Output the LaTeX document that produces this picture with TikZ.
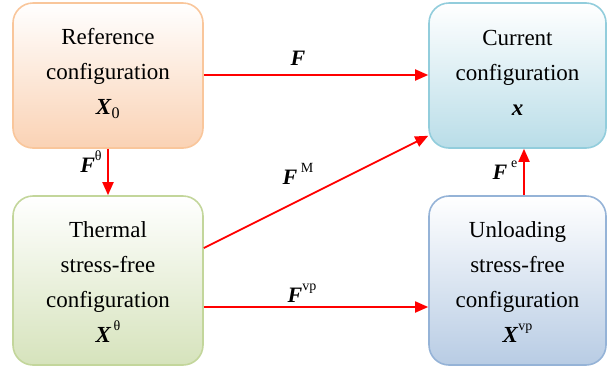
\documentclass[tikz,border=0pt]{standalone}
\usepackage{fontspec}
\setmainfont{Liberation Serif}
\usetikzlibrary{arrows.meta}
\newcommand{\bF}{\textbf{\textit{F}}}
\newcommand{\bX}{\textbf{\textit{X}}}
\newcommand{\upsc}[1]{\raisebox{0.55em}{\fontsize{14}{14}\selectfont #1}}
\definecolor{refB}{HTML}{F9C69B}
\definecolor{refF}{HTML}{FAD2B4}
\definecolor{curB}{HTML}{92CDDC}
\definecolor{curF}{HTML}{B9DDE8}
\definecolor{thB}{HTML}{C3D69B}
\definecolor{thF}{HTML}{D6E3BC}
\definecolor{unB}{HTML}{95B3D7}
\definecolor{unF}{HTML}{B8CCE4}
\definecolor{arr}{HTML}{FF0000}
\tikzset{
  cfgbox/.style={rounded corners=20pt, line width=1.6pt, inner sep=0pt},
  cfgtxt/.style={align=center, inner sep=0pt, font=\fontsize{23}{35}\selectfont},
  flow/.style={draw=arr, color=arr, line width=1.8pt, -{Triangle[length=13pt,width=11pt]}},
  lbl/.style={font=\fontsize{22}{26}\selectfont, inner sep=0pt}
}
\begin{document}
\begin{tikzpicture}[x=1pt,y=1pt]
\useasboundingbox (0,0) rectangle (608,-373);
\node[cfgbox, draw=refB, top color=white, bottom color=refF,
  minimum width=190pt, minimum height=145pt] (ref) at (108,-75.5) {};
\node[cfgbox, draw=curB, top color=white, bottom color=curF,
  minimum width=177pt, minimum height=145pt] (cur) at (517.5,-75.5) {};
\node[cfgbox, draw=thB, top color=white, bottom color=thF,
  minimum width=190pt, minimum height=169pt] (th) at (108,-280.5) {};
\node[cfgbox, draw=unB, top color=white, bottom color=unF,
  minimum width=177pt, minimum height=169pt] (un) at (517.5,-280.5) {};
\draw[flow] ([yshift=0.5pt]ref.east) -- ([yshift=0.5pt]cur.west);
\draw[flow] (ref.south) -- (th.north);
\draw[flow] ([yshift=32.5pt]th.east) -- ([yshift=13pt]cur.south west);
\draw[flow] ([yshift=-26.5pt]th.east) -- ([yshift=-26.5pt]un.west);
\draw[flow] ([xshift=6.5pt]un.north) -- ([xshift=6.5pt]cur.south);
\node[cfgtxt] (reft) at ([yshift=2pt]ref.center)
  {Reference\\configuration\\\bX\textsubscript{0}};
\node[cfgtxt] (curt) at ([yshift=3pt]cur.center)
  {Current\\configuration\\\textbf{\textit{x}}};
\node[cfgtxt] (tht) at ([yshift=-2pt]th.center)
  {Thermal\\stress-free\\configuration\\\bX\upsc{\,θ}};
\node[cfgtxt] (unt) at ([yshift=-2pt]un.center)
  {Unloading\\stress-free\\configuration\\\bX\upsc{vp}};
\node[lbl] (lF) at (298,-58) {\bF};
\node[lbl] (lM) at (298,-174) {\bF\,\upsc{M}};
\node[lbl] (lvp) at (302,-293) {\bF\upsc{vp}};
\node[lbl] (lth) at (91,-162) {\bF\upsc{θ}};
\node[lbl] (le) at (505,-170) {\bF\,\upsc{e}};
\end{tikzpicture}
\end{document}
